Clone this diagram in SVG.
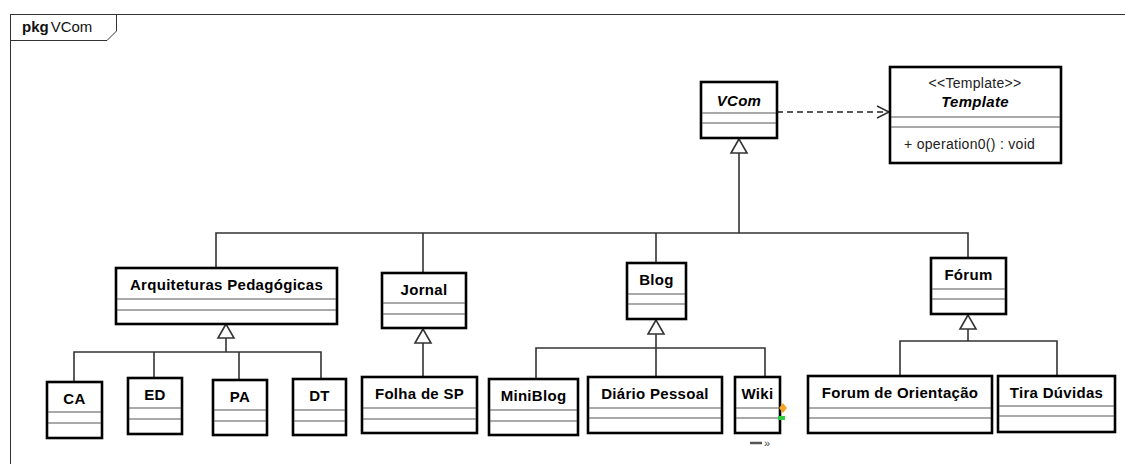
<svg xmlns="http://www.w3.org/2000/svg" width="1125" height="464" viewBox="0 0 1125 464">
  <style>
    .frame { fill: none; stroke: #333; stroke-width: 1; }
    .box { fill: #fff; stroke: #000; stroke-width: 2.6; }
    .sep { stroke: #555; stroke-width: 1.2; }
    .name { font-family: "Liberation Sans", Arial, sans-serif; font-size: 15px; font-weight: bold; fill: #000; text-anchor: middle; letter-spacing: 0.3px; }
    .abstract { font-style: italic; }
    .plain { font-family: "Liberation Sans", Arial, sans-serif; font-size: 14px; fill: #222; letter-spacing: 0.3px; }
    .conn { fill: none; stroke: #333; stroke-width: 1.6; }
    .gen { fill: #fff; stroke: #333; stroke-width: 1.6; }
    .dep { fill: none; stroke: #222; stroke-width: 1.3; stroke-dasharray: 6 4; }
  </style>

  <!-- package frame -->
  <g id="package">
    <rect class="frame" x="10.5" y="14.5" width="1200" height="500"/>
    <polyline class="frame" points="10.5,40.5 107,40.5 116.5,31 116.5,14.5"/>
    <text x="22" y="32" font-family="Liberation Sans, Arial, sans-serif" font-size="15" fill="#111"><tspan font-weight="bold">pkg</tspan><tspan dx="2">VCom</tspan></text>
  </g>

  <!-- connectors -->
  <g id="connectors">
    <!-- dependency VCom -> Template -->
    <line class="dep" x1="777" y1="112" x2="889" y2="112"/>
    <polyline class="conn" stroke-width="1.3" points="877,106 889,112 877,118"/>

    <!-- generalization to VCom -->
    <polyline class="conn" points="739,153 739,233"/>
    <polyline class="conn" points="216,268 216,233 968,233 968,258"/>
    <line class="conn" x1="423" y1="233" x2="423" y2="273"/>
    <line class="conn" x1="656" y1="233" x2="656" y2="263"/>
    <polygon class="gen" points="739,139 731,153 747,153"/>

    <!-- generalization to Arquiteturas Pedagógicas -->
    <line class="conn" x1="226" y1="338" x2="226" y2="352"/>
    <polyline class="conn" points="74,382 74,352 321,352 321,379"/>
    <line class="conn" x1="154" y1="352" x2="154" y2="378"/>
    <line class="conn" x1="239" y1="352" x2="239" y2="380"/>
    <polygon class="gen" points="226,324 218,338 234,338"/>

    <!-- generalization to Jornal -->
    <line class="conn" x1="423" y1="343" x2="423" y2="377"/>
    <polygon class="gen" points="423,329 415,343 431,343"/>

    <!-- generalization to Blog -->
    <line class="conn" x1="656" y1="334" x2="656" y2="377"/>
    <polyline class="conn" points="536,379 536,348 765,348 765,377"/>
    <polygon class="gen" points="656,320 648,334 664,334"/>

    <!-- generalization to Fórum -->
    <line class="conn" x1="968" y1="329" x2="968" y2="341"/>
    <polyline class="conn" points="900,376 900,341 1057,341 1057,376"/>
    <polygon class="gen" points="968,315 960,329 976,329"/>
  </g>

  <!-- classes -->
  <g id="vcom">
    <rect class="box" x="701" y="82" width="76" height="56"/>
    <line class="sep" x1="702" y1="113" x2="776" y2="113"/>
    <line class="sep" x1="702" y1="123" x2="776" y2="123"/>
    <text class="name abstract" x="739" y="106">VCom</text>
  </g>

  <g id="template">
    <rect class="box" x="890" y="67" width="171" height="96"/>
    <line class="sep" x1="891" y1="117" x2="1060" y2="117"/>
    <line class="sep" x1="891" y1="127" x2="1060" y2="127"/>
    <text class="plain" x="975" y="88" text-anchor="middle" fill="#333">&lt;&lt;Template&gt;&gt;</text>
    <text class="name abstract" x="975" y="107" font-size="14">Template</text>
    <text class="plain" x="904" y="149">+ operation0() : void</text>
  </g>

  <g id="arquiteturas">
    <rect class="box" x="116" y="268" width="221" height="56"/>
    <line class="sep" x1="117" y1="299" x2="336" y2="299"/>
    <line class="sep" x1="117" y1="310" x2="336" y2="310"/>
    <text class="name" x="226.5" y="290">Arquiteturas Pedagógicas</text>
  </g>

  <g id="jornal">
    <rect class="box" x="382" y="273" width="84" height="55"/>
    <line class="sep" x1="383" y1="303" x2="465" y2="303"/>
    <line class="sep" x1="383" y1="314" x2="465" y2="314"/>
    <text class="name" x="424" y="295">Jornal</text>
  </g>

  <g id="blog">
    <rect class="box" x="627" y="263" width="59" height="56"/>
    <line class="sep" x1="628" y1="294" x2="685" y2="294"/>
    <line class="sep" x1="628" y1="304" x2="685" y2="304"/>
    <text class="name" x="656.5" y="285">Blog</text>
  </g>

  <g id="forum">
    <rect class="box" x="931" y="258" width="75" height="56"/>
    <line class="sep" x1="932" y1="289" x2="1005" y2="289"/>
    <line class="sep" x1="932" y1="299" x2="1005" y2="299"/>
    <text class="name" x="968.5" y="280">Fórum</text>
  </g>

  <g id="ca">
    <rect class="box" x="47" y="382" width="55" height="56"/>
    <line class="sep" x1="48" y1="412" x2="101" y2="412"/>
    <line class="sep" x1="48" y1="423" x2="101" y2="423"/>
    <text class="name" x="74.5" y="404">CA</text>
  </g>

  <g id="ed">
    <rect class="box" x="128" y="378" width="54" height="56"/>
    <line class="sep" x1="129" y1="408" x2="181" y2="408"/>
    <line class="sep" x1="129" y1="419" x2="181" y2="419"/>
    <text class="name" x="155" y="400">ED</text>
  </g>

  <g id="pa">
    <rect class="box" x="213" y="380" width="54" height="55"/>
    <line class="sep" x1="214" y1="410" x2="266" y2="410"/>
    <line class="sep" x1="214" y1="421" x2="266" y2="421"/>
    <text class="name" x="240" y="402">PA</text>
  </g>

  <g id="dt">
    <rect class="box" x="293" y="379" width="53" height="56"/>
    <line class="sep" x1="294" y1="410" x2="345" y2="410"/>
    <line class="sep" x1="294" y1="421" x2="345" y2="421"/>
    <text class="name" x="319.5" y="401">DT</text>
  </g>

  <g id="folha-de-sp">
    <rect class="box" x="362" y="377" width="115" height="56"/>
    <line class="sep" x1="363" y1="408" x2="476" y2="408"/>
    <line class="sep" x1="363" y1="419" x2="476" y2="419"/>
    <text class="name" x="419.5" y="399">Folha de SP</text>
  </g>

  <g id="miniblog">
    <rect class="box" x="489" y="379" width="89" height="56"/>
    <line class="sep" x1="490" y1="410" x2="577" y2="410"/>
    <line class="sep" x1="490" y1="421" x2="577" y2="421"/>
    <text class="name" x="533.5" y="401">MiniBlog</text>
  </g>

  <g id="diario-pessoal">
    <rect class="box" x="588" y="377" width="134" height="56"/>
    <line class="sep" x1="589" y1="408" x2="721" y2="408"/>
    <line class="sep" x1="589" y1="418" x2="721" y2="418"/>
    <text class="name" x="655" y="399">Diário Pessoal</text>
  </g>

  <g id="wiki">
    <rect class="box" x="735" y="377" width="45" height="56"/>
    <line class="sep" x1="736" y1="408" x2="779" y2="408"/>
    <line class="sep" x1="736" y1="418" x2="779" y2="418"/>
    <text class="name" x="757.5" y="399">Wiki</text>
    <polygon points="783,403 787,408 783,413 779,408" fill="#f5a623"/>
    <rect x="778" y="416" width="7" height="4" fill="#2ecc40"/>
    <line x1="750" y1="443" x2="762" y2="443" stroke="#555" stroke-width="2.5"/>
    <text x="764" y="447" font-family="Liberation Sans, Arial, sans-serif" font-size="11" fill="#444">»</text>
  </g>

  <g id="forum-de-orientacao">
    <rect class="box" x="808" y="376" width="184" height="57"/>
    <line class="sep" x1="809" y1="408" x2="991" y2="408"/>
    <line class="sep" x1="809" y1="418" x2="991" y2="418"/>
    <text class="name" x="900" y="398">Forum de Orientação</text>
  </g>

  <g id="tira-duvidas">
    <rect class="box" x="998" y="376" width="117" height="56"/>
    <line class="sep" x1="999" y1="406" x2="1114" y2="406"/>
    <line class="sep" x1="999" y1="416" x2="1114" y2="416"/>
    <text class="name" x="1056.5" y="398">Tira Dúvidas</text>
  </g>
</svg>
